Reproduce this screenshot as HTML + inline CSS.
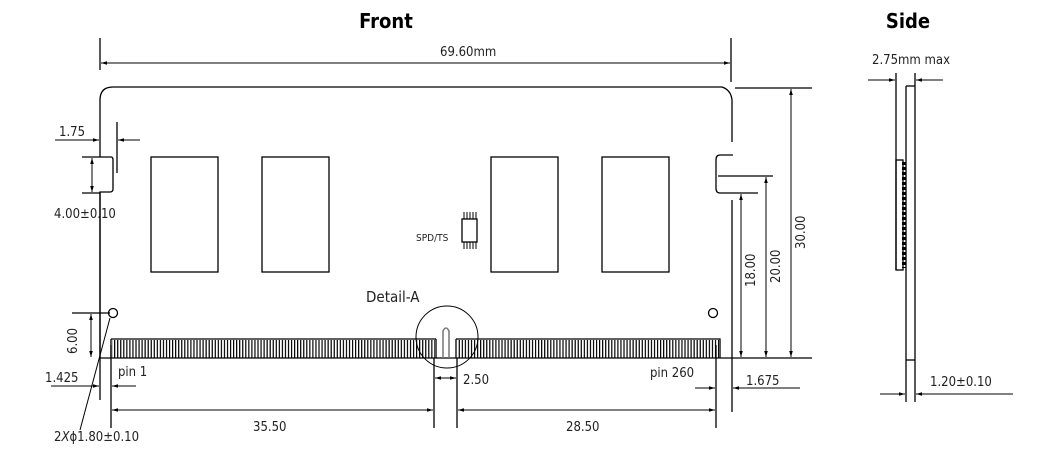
<!DOCTYPE html>
<html><head><style>body{margin:0;background:#fff}svg{display:block}</style></head><body>
<svg width="1060" height="456" viewBox="0 0 1060 456" xmlns="http://www.w3.org/2000/svg" font-family="Tahoma,'DejaVu Sans Condensed','Liberation Sans',sans-serif">
<defs>
<pattern id="pins" x="111" y="0" width="3.05" height="20" patternUnits="userSpaceOnUse"><rect x="0" y="0" width="1.2" height="20" fill="#000"/></pattern>
<marker id="a" viewBox="0 0 10 10" refX="10" refY="5" markerWidth="6" markerHeight="6" orient="auto-start-reverse"><path d="M0,2 L10,5 L0,8 z" fill="#000"/></marker>
</defs>
<g stroke="#000" stroke-width="1.3" fill="none">
<path d="M100,157 V100 Q100,87 113,87 H722 Q731,90 732,100 V142"/>
<path d="M100,157 H111 Q113,157 113,160 V189 Q113,192 110,192 H100 V358"/>
<path d="M733,155 H720 Q716,155 716,160 V188 Q716,193 720,193 H727"/>
<path d="M732,200 V412"/>
<line x1="100" y1="358" x2="812" y2="358"/>
<line x1="100" y1="192" x2="100" y2="400"/>
<rect x="151" y="157" width="67" height="115"/>
<rect x="262" y="157" width="67" height="115"/>
<rect x="491" y="157" width="67" height="115"/>
<rect x="602" y="157" width="67" height="115"/>
<rect x="462" y="219" width="15" height="23"/>
<path d="M464,212V219M467,212V219M470,212V219M473,212V219M476,212V219M464,242V249M467,242V249M470,242V249M473,242V249M476,242V249" stroke-width="1"/>
<circle cx="113" cy="313" r="4.5"/>
<circle cx="713" cy="313" r="4.5"/>
<path d="M111,339 H436 M456,339 H720 V358 M111,339 V358"/>
<path d="M443,358 V331 Q446,325 449,331 V358" stroke="#777" stroke-width="1.5"/>
<path d="M436,339 V358 M456,339 V358"/>
<circle cx="447" cy="337" r="31" stroke-width="1"/>
<line x1="100" y1="38" x2="100" y2="70"/>
<line x1="731" y1="38" x2="731" y2="82"/>
<line x1="101" y1="63" x2="730" y2="63" marker-start="url(#a)" marker-end="url(#a)" stroke-width="1"/>
<line x1="735" y1="88" x2="812" y2="88"/>
<line x1="718" y1="176" x2="773" y2="176"/>
<line x1="727" y1="193" x2="758" y2="193"/>
<line x1="791" y1="89" x2="791" y2="357" marker-start="url(#a)" marker-end="url(#a)" stroke-width="1"/>
<line x1="766" y1="177" x2="766" y2="357" marker-start="url(#a)" marker-end="url(#a)" stroke-width="1"/>
<line x1="741" y1="194" x2="741" y2="357" marker-start="url(#a)" marker-end="url(#a)" stroke-width="1"/>
<line x1="117" y1="122" x2="117" y2="173"/>
<line x1="55" y1="140" x2="99" y2="140" marker-end="url(#a)" stroke-width="1"/>
<line x1="140" y1="140" x2="118" y2="140" marker-end="url(#a)" stroke-width="1"/>
<line x1="82" y1="157" x2="100" y2="157"/>
<line x1="82" y1="193" x2="100" y2="193"/>
<line x1="92" y1="158" x2="92" y2="192" marker-start="url(#a)" marker-end="url(#a)" stroke-width="1"/>
<line x1="72" y1="313" x2="110" y2="313"/>
<line x1="91" y1="314" x2="91" y2="357" marker-start="url(#a)" marker-end="url(#a)" stroke-width="1"/>
<line x1="80" y1="430" x2="110" y2="318" stroke-width="1"/>
<line x1="111" y1="345" x2="111" y2="428"/>
<line x1="434" y1="358" x2="434" y2="428"/>
<line x1="457" y1="358" x2="457" y2="428"/>
<line x1="716" y1="345" x2="716" y2="428"/>
<line x1="51" y1="386" x2="99" y2="386" marker-end="url(#a)" stroke-width="1"/>
<line x1="136" y1="386" x2="112" y2="386" marker-end="url(#a)" stroke-width="1"/>
<line x1="435" y1="378" x2="456" y2="378" marker-start="url(#a)" marker-end="url(#a)" stroke-width="1"/>
<line x1="112" y1="410" x2="433" y2="410" marker-start="url(#a)" marker-end="url(#a)" stroke-width="1"/>
<line x1="458" y1="410" x2="715" y2="410" marker-start="url(#a)" marker-end="url(#a)" stroke-width="1"/>
<line x1="695" y1="388" x2="715" y2="388" marker-end="url(#a)" stroke-width="1"/>
<line x1="800" y1="388" x2="733" y2="388" marker-end="url(#a)" stroke-width="1"/>
<line x1="896" y1="73" x2="896" y2="270"/>
<line x1="915" y1="73" x2="915" y2="402"/>
<line x1="906" y1="86" x2="906" y2="402"/>
<line x1="906" y1="86" x2="915" y2="86"/>
<line x1="906" y1="360" x2="915" y2="360"/>
<rect x="896" y="160" width="7" height="110"/>
<line x1="904" y1="162" x2="904" y2="268" stroke-width="4" stroke-dasharray="3,2"/>
<line x1="868" y1="80" x2="895" y2="80" marker-end="url(#a)" stroke-width="1"/>
<line x1="943" y1="80" x2="916" y2="80" marker-end="url(#a)" stroke-width="1"/>
<line x1="880" y1="394" x2="905" y2="394" marker-end="url(#a)" stroke-width="1"/>
<line x1="1013" y1="394" x2="916" y2="394" marker-end="url(#a)" stroke-width="1"/>
</g>
<rect x="112" y="340" width="323" height="18" fill="url(#pins)"/>
<rect x="457" y="340" width="262" height="18" fill="url(#pins)"/>
<g fill="#222" font-size="13">
<text x="386" y="28" font-size="20" font-weight="bold" text-anchor="middle" fill="#000">Front</text>
<text x="908" y="28" font-size="20" font-weight="bold" text-anchor="middle" fill="#000">Side</text>
<text x="440" y="56">69.60mm</text>
<text x="872" y="64">2.75mm max</text>
<text x="59" y="136">1.75</text>
<text x="54" y="218">4.00±0.10</text>
<text x="416" y="241" font-size="10">SPD/TS</text>
<text x="366" y="302" font-size="15">Detail-A</text>
<text x="45" y="382">1.425</text>
<text x="118" y="376">pin 1</text>
<text x="463" y="384">2.50</text>
<text x="650" y="377">pin 260</text>
<text x="746" y="385">1.675</text>
<text x="253" y="431">35.50</text>
<text x="566" y="431">28.50</text>
<text x="54" y="441">2<tspan font-style="italic">X</tspan>ϕ1.80±0.10</text>
<text x="930" y="386">1.20±0.10</text>
<text transform="translate(77,354) rotate(-90)">6.00</text>
<text transform="translate(755,287) rotate(-90)">18.00</text>
<text transform="translate(780,283) rotate(-90)">20.00</text>
<text transform="translate(805,249) rotate(-90)">30.00</text>
</g>
</svg>
</body></html>
